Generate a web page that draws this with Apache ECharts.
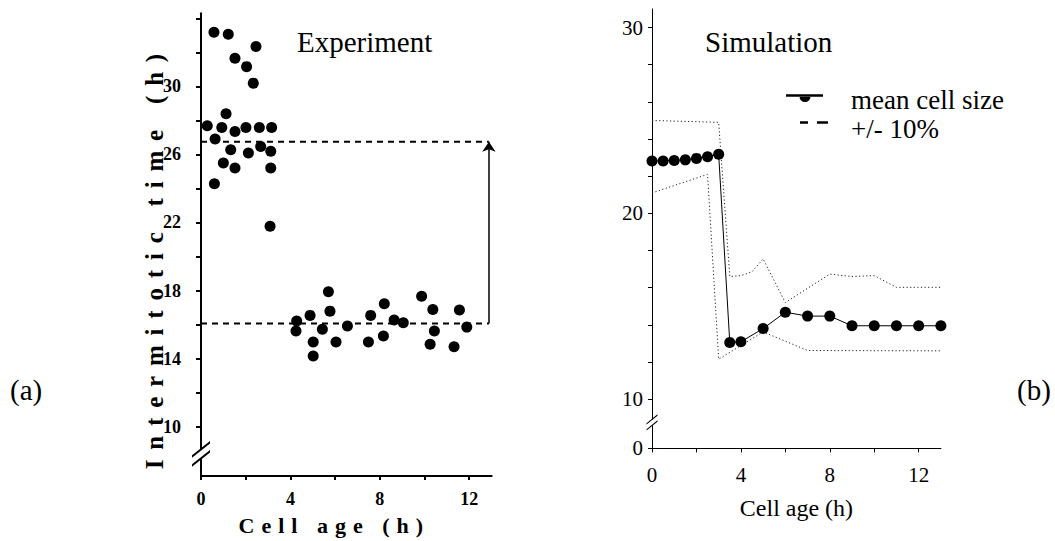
<!DOCTYPE html>
<html>
<head>
<meta charset="utf-8">
<script src="https://cdn.jsdelivr.net/npm/echarts@6/dist/echarts.min.js"></script>
<style>
  html, body { margin: 0; padding: 0; background: #fff; }
  #main { width: 1055px; height: 541px; }
  /* every text of the figure is set in a Times-like serif */
  #main svg text { font-family: 'Liberation Serif', 'Times New Roman', serif !important; }
  /* wide tracking for the bold axis titles of panel (a) */
  #main text[style*="trky"] { letter-spacing: 9.8px; }
  #main text[style*="trkx"] { letter-spacing: 7px; }
</style>
</head>
<body>
<div id="main"></div>
<script>
// ---- Panel (a): experiment — cell age (h) and intermitotic time (h) of each cell
const expAge = [0.58, 1.22, 2.46, 1.52, 2.04, 2.34, 1.12, 0.28, 0.93, 1.52, 2.01, 2.61, 3.16,
  0.63, 1.33, 2.12, 2.67, 3.12, 1.0, 1.52, 3.12, 0.6, 3.09,
  4.28, 4.25, 4.88, 5.02, 5.02, 5.43, 5.7, 5.77, 6.04, 6.55, 7.49, 7.59, 8.16, 8.2,
  8.64, 9.05, 9.87, 10.37, 10.44, 10.25, 11.32, 11.56, 11.89];
const expTime = [33.18, 33.06, 32.34, 31.65, 31.16, 30.19, 28.39, 27.68, 27.58, 27.35, 27.58, 27.58, 27.58,
  26.9, 26.28, 26.08, 26.47, 26.18, 25.5, 25.2, 25.2, 24.28, 21.78,
  16.21, 15.62, 16.54, 14.97, 14.15, 15.72, 17.93, 16.79, 14.97, 15.91, 14.97, 16.54, 15.33, 17.23,
  16.27, 16.11, 17.67, 16.89, 15.62, 14.84, 14.7, 16.85, 15.85];
const expLevelYoung = 26.75;   // mean level of the young cells
const expLevelOld = 16.07;     // mean level of the older cells
const expArrowAge = 12.88;
const expXLabels = [0, 4, 8, 12];
const expYLabels = [10, 14, 18, 22, 26, 30];
const expXTicks = [0, 2, 4, 6, 8, 10, 12];
const expYTicks = [10, 12, 14, 16, 18, 20, 22, 24, 26, 28, 30, 32, 34];
const EXP_Y_MIN = 7.1, EXP_Y_MAX = 34.3, EXP_BREAK = 8.4;

// ---- Panel (b): simulation
const simAge = [0, 0.5, 1, 1.5, 2, 2.5, 3, 3.5, 4, 5, 6, 7, 8, 9, 10, 11, 12, 13];
const simMean = [22.82, 22.82, 22.85, 22.88, 22.96, 23.05, 23.18, 13.05, 13.09, 13.8, 14.68,
  14.47, 14.47, 13.95, 13.95, 13.95, 13.95, 13.95];
const simUpperAge = [0, 3, 3.5, 4, 4.5, 5, 6, 8, 9, 10, 11, 13];
const simUpper = [25.0, 24.9, 16.6, 16.65, 16.85, 17.55, 15.2, 16.73, 16.6, 16.65, 16.02, 16.02];
const simLowerAge = [0, 2.5, 3, 5, 7, 13];
const simLower = [21.1, 22.1, 12.15, 13.62, 12.62, 12.6];
const simXLabels = [0, 4, 8, 12];
const simYLabels = [0, 10, 20, 30];
const simXTicks = [0, 2, 4, 6, 8, 10, 12];
const simYTicks = [0, 10, 12, 14, 16, 18, 20, 22, 24, 26, 28, 30];
// the y axis is broken below 10: its bottom end carries the "0" tick
const SIM_FLOOR = 7.35, SIM_Y_MAX = 31, SIM_BREAK = 8.75;

const zip = (xs, ys) => xs.map((x, i) => [x, ys[i]]);
const onSimAxis = v => (v === 0 ? SIM_FLOOR : v);

const SERIF = "'Liberation Serif', 'Times New Roman', serif";
const boldTick = { fontFamily: SERIF, fontWeight: 'bold', fontSize: 18, color: '#000' };
const plainTick = { fontFamily: SERIF, fontSize: 21, color: '#000' };
const legendText = { fontFamily: SERIF, fontSize: 27, color: '#000' };
const titleText = { fontFamily: SERIF, fontWeight: 'normal', fontSize: 29, color: '#000' };

// "//" axis-break marks: a white gap in the axis line and two slashes over it
const BREAK_SLASHES_A = 'path://M1,16.7 L19,2.3 L19,4.8 L1,19.2 Z M1,25.7 L19,11.3 L19,13.8 L1,28.2 Z';
const BREAK_SLASHES_B = 'path://M0,10.1 L11,1.3 L11,2.6 L0,11.4 Z M0,16.1 L11,7.3 L11,8.6 L0,17.4 Z';
function breakSeries(axis, value, slashPath, slashSize, gapSize) {
  const common = { type: 'scatter', xAxisIndex: axis, yAxisIndex: axis, data: [[0, value]],
    silent: true, clip: false, animation: false };
  return [
    Object.assign({ name: 'break gap ' + axis, symbol: 'rect', symbolSize: gapSize,
      itemStyle: { color: '#fff', opacity: 1 }, z: 8 }, common),
    Object.assign({ name: 'break mark ' + axis, symbol: slashPath, symbolSize: slashSize,
      symbolKeepAspect: false, itemStyle: { color: '#000', opacity: 1 }, z: 9 }, common)
  ];
}

const chart = echarts.init(document.getElementById('main'), null, { renderer: 'svg' });

chart.setOption({
  animation: false,
  backgroundColor: '#fff',
  textStyle: { fontFamily: SERIF },
  grid: [
    { left: 201, top: 13.2, width: 290.6, height: 463.8 },
    { left: 652, top: 9, width: 288.9, height: 439.4 }
  ],
  title: [
    { text: 'Experiment', left: 297, top: 27, padding: 0, textStyle: titleText },
    { text: 'Simulation', left: 705, top: 27, padding: 0, textStyle: titleText },
    { text: '(a)', left: 10, top: 375, padding: 0, textStyle: titleText },
    { text: '(b)', left: 1017, top: 375, padding: 0, textStyle: titleText }
  ],
  legend: [
    {
      left: 786, top: 86.5, padding: 0, orient: 'vertical', selectedMode: false,
      itemWidth: 60, itemHeight: 16, textStyle: legendText,
      data: [{
        name: 'mean cell size',
        icon: 'path://M0,0 M60,16 M0,2.3 H37 V4.8 H0 Z M13.5,4.5 A5.5,5.5 0 0,0 24.5,4.5 Z',
        itemStyle: { color: '#000' }
      }]
    },
    {
      left: 786, top: 115, padding: 0, orient: 'vertical', selectedMode: false,
      itemWidth: 60, itemHeight: 16, textStyle: legendText,
      data: [{
        name: '+/- 10%',
        icon: 'path://M0,0 M60,16 M14,0.8 H22 V3.3 H14 Z M31,0.8 H42 V3.3 H31 Z',
        itemStyle: { color: '#000' }
      }]
    }
  ],
  xAxis: [
    {
      gridIndex: 0, type: 'value', min: 0, max: 13,
      axisLine: { onZero: false, lineStyle: { color: '#000', width: 2 } },
      axisTick: { customValues: expXTicks, length: 4, lineStyle: { color: '#000', width: 2 } },
      axisLabel: Object.assign({ customValues: expXLabels, margin: 14 }, boldTick),
      splitLine: { show: false },
      name: 'Cell age (h)', nameLocation: 'middle', nameGap: 38, nameMoveOverlap: false,
      nameTextStyle: { fontFamily: SERIF + ', trkx', fontWeight: 'bold', fontSize: 22, color: '#000',
        padding: [0, 24, 0, 0] }
    },
    {
      gridIndex: 1, type: 'value', min: 0, max: 13,
      axisLine: { onZero: false, lineStyle: { color: '#000', width: 1 } },
      axisTick: { customValues: simXTicks, length: 4, lineStyle: { color: '#000', width: 1 } },
      axisLabel: Object.assign({ customValues: simXLabels, margin: 16 }, plainTick),
      splitLine: { show: false },
      name: 'Cell age (h)', nameLocation: 'middle', nameGap: 48, nameMoveOverlap: false,
      nameTextStyle: { fontFamily: SERIF, fontSize: 24, color: '#000' }
    }
  ],
  yAxis: [
    {
      gridIndex: 0, type: 'value', min: EXP_Y_MIN, max: EXP_Y_MAX,
      axisLine: { onZero: false, lineStyle: { color: '#000', width: 2 } },
      axisTick: { customValues: expYTicks, length: 5, lineStyle: { color: '#000', width: 2 } },
      axisLabel: Object.assign({ customValues: expYLabels, margin: 20 }, boldTick),
      splitLine: { show: false },
      name: 'Intermitotic time (h)', nameLocation: 'middle', nameRotate: 90, nameGap: 34,
      nameMoveOverlap: false,
      nameTextStyle: { fontFamily: SERIF + ', trky', fontWeight: 'bold', fontSize: 25, color: '#000',
        padding: [0, 24, 0, 0] }
    },
    {
      gridIndex: 1, type: 'value', min: SIM_FLOOR, max: SIM_Y_MAX,
      axisLine: { onZero: false, lineStyle: { color: '#000', width: 1 } },
      axisTick: { customValues: simYTicks.map(onSimAxis), length: 4, lineStyle: { color: '#000', width: 1 } },
      axisLabel: Object.assign({
        customValues: simYLabels.map(onSimAxis), margin: 9,
        formatter: v => (v <= SIM_FLOOR + 1e-6 ? '0' : String(v))
      }, plainTick),
      splitLine: { show: false }
    }
  ],
  series: [
    {
      name: 'cells', type: 'scatter', xAxisIndex: 0, yAxisIndex: 0,
      data: zip(expAge, expTime), symbol: 'circle', symbolSize: 11,
      itemStyle: { color: '#000', opacity: 1 }, z: 3
    },
    {
      name: 'young level', type: 'line', xAxisIndex: 0, yAxisIndex: 0,
      data: [[0, expLevelYoung], [expArrowAge, expLevelYoung]], symbol: 'none',
      lineStyle: { color: '#000', width: 2, type: [6, 5] }, z: 2
    },
    {
      name: 'old level', type: 'line', xAxisIndex: 0, yAxisIndex: 0,
      data: [[0, expLevelOld], [expArrowAge, expLevelOld]], symbol: 'none',
      lineStyle: { color: '#000', width: 2, type: [6, 5] }, z: 2,
      markLine: {
        silent: true, symbol: ['none', 'arrow'], symbolSize: 10,
        label: { show: false },
        lineStyle: { color: '#000', width: 1.5, type: 'solid' },
        itemStyle: { color: '#000' },
        data: [[{ coord: [expArrowAge, expLevelOld] }, { coord: [expArrowAge, expLevelYoung] }]]
      }
    },
    {
      name: '+/- 10%', type: 'line', xAxisIndex: 1, yAxisIndex: 1,
      data: zip(simUpperAge, simUpper), symbol: 'none', color: '#000',
      lineStyle: { color: '#222', width: 1, type: [1.2, 2.4] }
    },
    {
      name: '+/- 10%', type: 'line', xAxisIndex: 1, yAxisIndex: 1,
      data: zip(simLowerAge, simLower), symbol: 'none', color: '#000',
      lineStyle: { color: '#222', width: 1, type: [1.2, 2.4] }
    },
    {
      name: 'mean cell size', type: 'line', xAxisIndex: 1, yAxisIndex: 1,
      data: zip(simAge, simMean), symbol: 'circle', symbolSize: 11, color: '#000',
      itemStyle: { color: '#000', opacity: 1 },
      lineStyle: { color: '#000', width: 1 }, z: 3
    }
  ]
    .concat(breakSeries(0, EXP_BREAK, BREAK_SLASHES_A, [18, 25.9], [6, 9]))
    .concat(breakSeries(1, SIM_BREAK, BREAK_SLASHES_B, [11, 16.1], [5, 6]))
});
</script>
</body>
</html>
